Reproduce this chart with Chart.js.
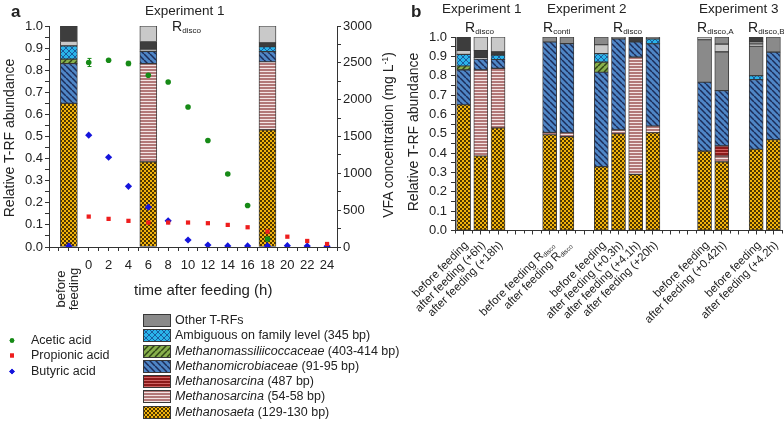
<!DOCTYPE html>
<html>
<head>
<meta charset="utf-8">
<script src="https://cdn.jsdelivr.net/npm/chart.js@4.4.1/dist/chart.umd.min.js"></script>
<style>
  body { margin: 0; background: #fff; font-family: "Liberation Sans", Arial, sans-serif; color: #222; }
  #wrap { position: relative; width: 784px; height: 421px; overflow: hidden; }
  #wrap canvas.chart { position: absolute; top: 0; }
  .t { position: absolute; white-space: nowrap; line-height: 1; }
  .t sub { font-size: 58%; vertical-align: -0.3em; line-height: 0; }
  .t sup { font-size: 62%; vertical-align: 0.55em; line-height: 0; }
  .row { position: absolute; height: 13px; white-space: nowrap; font-size: 12.5px; line-height: 13px; }
  .row canvas { position: absolute; left: 0; top: 0; }
  .row span { position: absolute; top: 0; }
</style>
</head>
<body>
<div id="wrap">
  <canvas id="chartA" class="chart" width="400" height="300" style="left:0"></canvas>
  <canvas id="chartB" class="chart" width="384" height="421" style="left:400px"></canvas>
</div>
<script>
// ---- data -------------------------------------------------------------
// panel a: VFA concentrations (mg/L) vs hours after feeding, -2 = before feeding
var hours     = [-2, 0, 2, 4, 6, 8, 10, 12, 14, 16, 18, 20, 22, 24];
var acetic    = [null, 2505, 2536, 2491, 2332, 2240, 1900, 1445, 991, 563, 109, null, null, null];
var aceticErr = [0, 55, 0, 30, 0, 0, 0, 0, 0, 0, 0, 0, 0, 0];
var propionic = [null, 413, 382, 355, 332, 332, 332, 323, 300, 268, 209, 140, 82, 41];
var butyric   = [15, 1518, 1218, 823, 541, 355, 95, 27, 15, 15, 15, 18, 12, 10];
var exp1Hours = [-2, 6, 18];   // where the experiment 1 bars sit in panel a

// panel b: bar slots (empty strings are gaps)
var slots = ['before feeding', 'after feeding (+6h)', 'after feeding (+18h)', '', '',
  'before feeding R_disco', 'after feeding R_disco', '',
  'before feeding', 'after feeding (+0.3h)', 'after feeding (+4.1h)', 'after feeding (+20h)', '', '',
  'before feeding', 'after feeding (+0.42h)', '',
  'before feeding', 'after feeding (+4.2h)'];

// relative T-RF abundance per slot, bottom to top of the stack
var n = null;
var saeta     = [0.65, 0.385, 0.53, n, n, 0.495, 0.485, n, 0.33, 0.50, 0.29, 0.505, n, n, 0.41, 0.355, n, 0.42, 0.47];
var sarcina54 = [0, 0.445, 0.308, n, n, 0.012, 0.02, n, 0, 0.02, 0.606, 0.035, n, n, 0, 0.03, n, 0, 0];
var sarcina487= [0, 0, 0, n, n, 0, 0, n, 0, 0, 0, 0, n, n, 0, 0.052, n, 0, 0];
var microb    = [0.18, 0.055, 0.046, n, n, 0.467, 0.461, n, 0.488, 0.47, 0.078, 0.425, n, n, 0.356, 0.286, n, 0.36, 0.452];
var massil    = [0.02, 0, 0, n, n, 0, 0, n, 0.052, 0, 0, 0, n, n, 0, 0, n, 0, 0];
var ambig     = [0.06, 0, 0.022, n, n, 0, 0, n, 0.044, 0, 0, 0.025, n, n, 0, 0, n, 0.02, 0];
// "Other T-RFs" is several separate fragments in different greys
var otherL1   = [0.02, 0.01, 0, n, n, 0, 0, n, 0.046, 0, 0, 0, n, n, 0, 0, n, 0, 0];
var otherD1   = [0.07, 0.035, 0.018, n, n, 0, 0, n, 0, 0, 0.026, 0, n, n, 0, 0, n, 0, 0];
var otherL2   = [0, 0.07, 0.076, n, n, 0, 0, n, 0, 0, 0, 0, n, n, 0, 0, n, 0, 0];
var otherM1   = [0, 0, 0, n, n, 0.026, 0.034, n, 0.04, 0.01, 0, 0.01, n, n, 0.22, 0.2, n, 0.152, 0.078];
var otherL3   = [0, 0, 0, n, n, 0, 0, n, 0, 0, 0, 0, n, n, 0.015, 0.04, n, 0.012, 0];
var otherM2   = [0, 0, 0, n, n, 0, 0, n, 0, 0, 0, 0, n, n, 0, 0.038, n, 0.013, 0];
var otherD2   = [0, 0, 0, n, n, 0, 0, n, 0, 0, 0, 0, n, n, 0, 0, n, 0.023, 0];

// legend, top to bottom: [italic part, plain part]
var legendNames = [['', 'Other T-RFs'], ['', 'Ambiguous on family level (345 bp)'],
  ['Methanomassiliicoccaceae', ' (403-414 bp)'], ['Methanomicrobiaceae', ' (91-95 bp)'],
  ['Methanosarcina', ' (487 bp)'], ['Methanosarcina', ' (54-58 bp)'], ['Methanosaeta', ' (129-130 bp)']];
var acidNames = ['Acetic acid', 'Propionic acid', 'Butyric acid'];

// ---- fills ------------------------------------------------------------
function makeFill(key) {
  var c = document.createElement('canvas');
  var s = 6;
  c.width = s; c.height = s;
  if (key === 'saeta') { c.width = 4; c.height = 4; }
  if (key === 'sarc54' || key === 'sarc487') { c.width = 3; c.height = 3; }
  var g = c.getContext('2d');
  function diag(dir, col, lw) {
    g.strokeStyle = col; g.lineWidth = lw;
    for (var k = -s; k <= s; k += s) {
      g.beginPath();
      if (dir > 0) { g.moveTo(k, s); g.lineTo(k + s, 0); } else { g.moveTo(k, 0); g.lineTo(k + s, s); }
      g.stroke();
    }
  }
  switch (key) {
    case 'saeta':
      g.fillStyle = '#f2b40c'; g.fillRect(0, 0, 4, 4);
      g.fillStyle = '#4e3600'; g.fillRect(0, 0, 2, 2); g.fillRect(2, 2, 2, 2);
      break;
    case 'sarc54':
      g.fillStyle = '#b27878'; g.fillRect(0, 0, 3, 3);
      g.fillStyle = '#f3e4e4'; g.fillRect(0, 2, 3, 1);
      break;
    case 'sarc487':
      g.fillStyle = '#8c1a1a'; g.fillRect(0, 0, 3, 3);
      g.fillStyle = '#d06464'; g.fillRect(0, 2, 3, 1);
      break;
    case 'microb':
      g.fillStyle = '#4f86c6'; g.fillRect(0, 0, s, s);
      diag(-1, '#1c2c58', 1.5);
      break;
    case 'massil':
      g.fillStyle = '#88b04c'; g.fillRect(0, 0, s, s);
      diag(1, '#2f4514', 1.5);
      break;
    case 'ambig':
      g.fillStyle = '#2ab4ea'; g.fillRect(0, 0, s, s);
      diag(1, '#1a5c9e', 1); diag(-1, '#1a5c9e', 1);
      break;
  }
  return g.createPattern(c, 'repeat');
}
var greys = { L: '#c9c9c9', D: '#3d3d3d', M: '#8a8a8a' };

var layers = [
  { data: saeta, fill: makeFill('saeta') },
  { data: sarcina54, fill: makeFill('sarc54') },
  { data: sarcina487, fill: makeFill('sarc487') },
  { data: microb, fill: makeFill('microb') },
  { data: massil, fill: makeFill('massil') },
  { data: ambig, fill: makeFill('ambig') },
  { data: otherL1, fill: greys.L },
  { data: otherD1, fill: greys.D },
  { data: otherL2, fill: greys.L },
  { data: otherM1, fill: greys.M },
  { data: otherL3, fill: greys.L },
  { data: otherM2, fill: greys.M },
  { data: otherD2, fill: greys.D }
];
var legendFills = [greys.M, layers[5].fill, layers[4].fill, layers[3].fill, layers[2].fill, layers[1].fill, layers[0].fill];

function nz(v) { return v ? v : null; }

var FONT = '"Liberation Sans", Arial, sans-serif';
var AXIS = '#333';
Chart.defaults.font.family = FONT;
Chart.defaults.color = '#222';

function barDataset(layer, data) {
  return {
    type: 'bar', data: data, yAxisID: 'y', order: 1,
    backgroundColor: layer.fill, borderColor: '#383838', borderWidth: 0.9,
    borderSkipped: false
  };
}

// ---- panel a ----------------------------------------------------------
var datasetsA = [];
function points(vals) {
  var out = [];
  hours.forEach(function (h, i) { if (vals[i] !== null) out.push({ x: h, y: vals[i] }); });
  return out;
}
datasetsA.push({ type: 'scatter', data: points(acetic), yAxisID: 'y2', order: 0,
  pointStyle: 'circle', pointRadius: 2.8, backgroundColor: '#168a16', borderColor: '#168a16', borderWidth: 0 });
datasetsA.push({ type: 'scatter', data: points(propionic), yAxisID: 'y2', order: 0,
  pointStyle: 'rect', pointRadius: 3, backgroundColor: '#ee1d1d', borderColor: '#ee1d1d', borderWidth: 0 });
datasetsA.push({ type: 'scatter', data: points(butyric), yAxisID: 'y2', order: 0,
  pointStyle: 'rectRot', pointRadius: 3.6, backgroundColor: '#1414dc', borderColor: '#1414dc', borderWidth: 0 });
layers.forEach(function (layer) {
  var d = exp1Hours.map(function (h, i) { return { x: h, y: nz(layer.data[i]) }; });
  var ds = barDataset(layer, d);
  ds.barThickness = 17;
  datasetsA.push(ds);
});

var errorBars = {
  id: 'errorBars',
  afterDatasetsDraw: function (chart) {
    var ctx = chart.ctx, xs = chart.scales.x, ys = chart.scales.y2;
    ctx.save();
    ctx.strokeStyle = '#168a16'; ctx.lineWidth = 1;
    hours.forEach(function (h, i) {
      if (!aceticErr[i] || acetic[i] === null) return;
      var px = Math.round(xs.getPixelForValue(h)) + 0.5;
      var t = ys.getPixelForValue(acetic[i] + aceticErr[i]);
      var b = ys.getPixelForValue(acetic[i] - aceticErr[i]);
      ctx.beginPath();
      ctx.moveTo(px, t); ctx.lineTo(px, b);
      ctx.moveTo(px - 2, t); ctx.lineTo(px + 2, t);
      ctx.moveTo(px - 2, b); ctx.lineTo(px + 2, b);
      ctx.stroke();
    });
    ctx.restore();
  }
};

new Chart(document.getElementById('chartA'), {
  type: 'bar',
  data: { datasets: datasetsA },
  options: {
    responsive: false, animation: false, events: [],
    layout: { padding: { top: 26, left: 0, right: 0, bottom: 0 } },
    plugins: { legend: { display: false }, tooltip: { enabled: false } },
    scales: {
      x: {
        type: 'linear', min: -4, max: 25, stacked: true, offset: false,
        afterFit: function (s) { s.height = 53; },
        grid: { drawOnChartArea: false, offset: false, tickLength: 4, color: AXIS },
        border: { color: AXIS, width: 1 },
        ticks: {
          stepSize: 1, autoSkip: false, maxRotation: 0, padding: 7, font: { size: 13 },
          callback: function (v) { return (v >= 0 && v % 2 === 0) ? String(v) : ''; }
        }
      },
      y: {
        stacked: true, min: 0, max: 1,
        afterFit: function (s) { s.width = 49; },
        grid: { drawOnChartArea: false, tickLength: 4, color: AXIS },
        border: { color: AXIS, width: 1 },
        ticks: {
          stepSize: 0.05, autoSkip: false, padding: 2, font: { size: 13 },
          callback: function (v) { return Math.round(v * 100) % 10 === 0 ? v.toFixed(1) : ''; }
        }
      },
      y2: {
        position: 'right', min: 0, max: 3000,
        afterFit: function (s) { s.width = 63; },
        grid: { drawOnChartArea: false, tickLength: 4, color: AXIS },
        border: { color: AXIS, width: 1 },
        ticks: {
          stepSize: 250, autoSkip: false, padding: 2, font: { size: 13 },
          callback: function (v) { return v % 500 === 0 ? String(v) : ''; }
        }
      }
    }
  },
  plugins: [errorBars]
});

// ---- panel b ----------------------------------------------------------
var datasetsB = layers.map(function (layer) {
  var ds = barDataset(layer, layer.data.map(nz));
  ds.barThickness = 14;
  return ds;
});

var slotLabels = {
  id: 'slotLabels',
  afterDraw: function (chart) {
    var ctx = chart.ctx, xs = chart.scales.x, bottom = chart.chartArea.bottom;
    var half = (xs.getPixelForValue(1) - xs.getPixelForValue(0)) / 2;
    ctx.save();
    // minor ticks between the slots
    ctx.strokeStyle = AXIS; ctx.lineWidth = 1;
    for (var i = 0; i <= slots.length; i++) {
      var bx = Math.round(xs.getPixelForValue(i) - half) + 0.5;
      ctx.beginPath(); ctx.moveTo(bx, bottom); ctx.lineTo(bx, bottom + 3); ctx.stroke();
    }
    ctx.fillStyle = '#222';
    ctx.textBaseline = 'middle';
    slots.forEach(function (lab, i) {
      if (!lab) return;
      var parts = lab.split('_');
      ctx.save();
      ctx.translate(xs.getPixelForValue(i) + 3, bottom + 13);
      ctx.rotate(-Math.PI / 4);
      ctx.font = '11.5px ' + FONT;
      var w1 = ctx.measureText(parts[0]).width;
      var w2 = 0;
      if (parts[1]) { ctx.font = '6.5px ' + FONT; w2 = ctx.measureText(parts[1]).width; }
      ctx.font = '11.5px ' + FONT;
      ctx.textAlign = 'left';
      ctx.fillText(parts[0], -w1 - w2, 0);
      if (parts[1]) { ctx.font = '6.5px ' + FONT; ctx.fillText(parts[1], -w2, 3); }
      ctx.restore();
    });
    ctx.restore();
  }
};

new Chart(document.getElementById('chartB'), {
  type: 'bar',
  data: { labels: slots, datasets: datasetsB },
  options: {
    responsive: false, animation: false, events: [],
    layout: { padding: { top: 37, left: 0, right: 2, bottom: 0 } },
    plugins: { legend: { display: false }, tooltip: { enabled: false } },
    scales: {
      x: {
        stacked: true, offset: true,
        afterFit: function (s) { s.height = 421 - 230.5; },
        grid: { drawOnChartArea: false, offset: false, tickLength: 4, color: AXIS },
        border: { color: AXIS, width: 1 },
        ticks: { autoSkip: false, maxRotation: 0, callback: function () { return ''; } }
      },
      y: {
        stacked: true, min: 0, max: 1,
        afterFit: function (s) { s.width = 55; },
        grid: { drawOnChartArea: false, tickLength: 4, color: AXIS },
        border: { color: AXIS, width: 1 },
        ticks: {
          stepSize: 0.05, autoSkip: false, padding: 4, font: { size: 13 },
          callback: function (v) { return Math.round(v * 100) % 10 === 0 ? v.toFixed(1) : ''; }
        }
      }
    }
  },
  plugins: [slotLabels]
});

// ---- text and legends -------------------------------------------------
var wrap = document.getElementById('wrap');
function text(html, x, base, size, style) {
  var d = document.createElement('div');
  d.className = 't';
  d.innerHTML = html;
  d.style.left = x + 'px';
  d.style.top = (base - 0.86 * size) + 'px';
  d.style.fontSize = size + 'px';
  if (style) Object.assign(d.style, style);
  wrap.appendChild(d);
  return d;
}
function vtext(html, cx, cy, size, style) {
  var d = text(html, cx, cy, size, style);
  d.style.top = cy + 'px';
  d.style.transform = 'translate(-50%,-50%) rotate(-90deg)';
  return d;
}

text('a', 11, 18, 17, { fontWeight: 'bold' });
text('b', 411, 18, 17, { fontWeight: 'bold' });
text('Experiment 1', 145, 16, 13.5);
text('R<sub>disco</sub>', 172, 31, 14);
text('Experiment 1', 442, 14, 13.5);
text('R<sub>disco</sub>', 465, 32, 14);
text('Experiment 2', 547, 14, 13.5);
text('R<sub>conti</sub>', 543, 32, 14);
text('R<sub>disco</sub>', 613, 32, 14);
text('Experiment 3', 699, 14, 13.5);
text('R<sub>disco,A</sub>', 697, 32, 14);
text('R<sub>disco,B</sub>', 748, 32, 14);

vtext('Relative T-RF abundance', 9, 138, 14);
vtext('VFA concentration (mg L<sup>-1</sup>)', 388, 135, 14);
vtext('Relative T-RF abundance', 413, 132, 14);
vtext('before<br>feeding', 67, 289, 13, { textAlign: 'center', lineHeight: '13px' });
text('time after feeding (h)', 134, 295, 15);

// acid legend
var markers = ['circle', 'rect', 'rectRot'];
var markerCols = ['#168a16', '#ee1d1d', '#1414dc'];
acidNames.forEach(function (name, i) {
  var row = document.createElement('div');
  row.className = 'row';
  row.style.left = '5px';
  row.style.top = (333.5 + i * 15.5) + 'px';
  var c = document.createElement('canvas');
  c.width = 14; c.height = 13;
  var g = c.getContext('2d');
  g.fillStyle = markerCols[i];
  Chart.helpers.drawPoint(g, { pointStyle: markers[i], radius: i === 0 ? 2.3 : 2.8, borderWidth: 0 }, 7, 6.5);
  g.fill();
  row.appendChild(c);
  var s = document.createElement('span');
  s.style.left = '26px';
  s.textContent = name;
  row.appendChild(s);
  wrap.appendChild(row);
});

// T-RF legend
legendNames.forEach(function (nm, i) {
  var row = document.createElement('div');
  row.className = 'row';
  row.style.left = '143px';
  row.style.top = (314 + i * 15.25) + 'px';
  var c = document.createElement('canvas');
  c.width = 28; c.height = 13;
  var g = c.getContext('2d');
  g.fillStyle = legendFills[i];
  g.fillRect(0, 0, 28, 13);
  g.strokeStyle = '#383838'; g.lineWidth = 1;
  g.strokeRect(0.5, 0.5, 27, 12);
  row.appendChild(c);
  var s = document.createElement('span');
  s.style.left = '32px';
  s.innerHTML = (nm[0] ? '<i>' + nm[0] + '</i>' : '') + nm[1];
  row.appendChild(s);
  wrap.appendChild(row);
});
</script>
</body>
</html>
